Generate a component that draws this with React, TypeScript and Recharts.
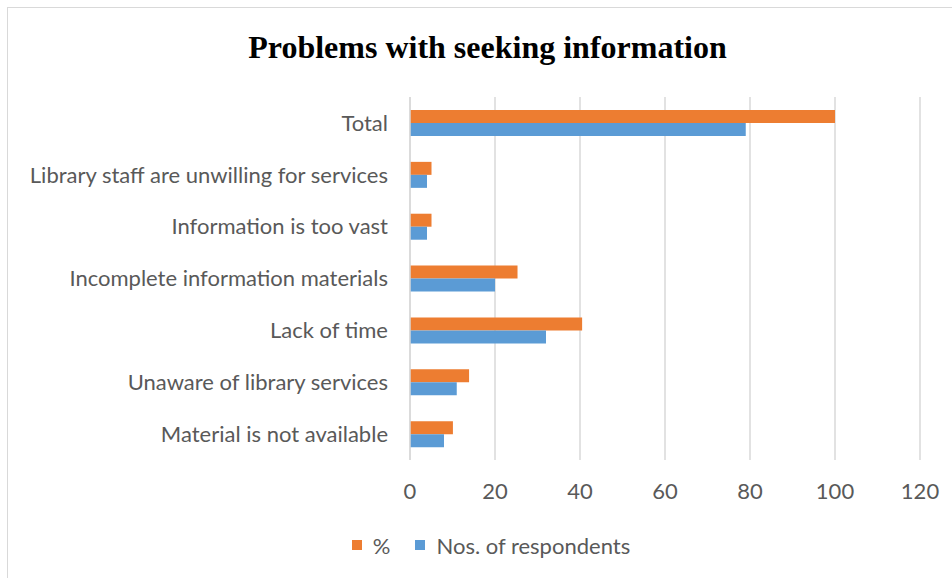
import React from "react";
import { BarChart, Bar, XAxis, YAxis, CartesianGrid, Legend } from "recharts";

const categories = [
  "Total",
  "Library staff are unwilling for services",
  "Information is too vast",
  "Incomplete information materials",
  "Lack of time",
  "Unaware of library services",
  "Material is not available",
];
const percentValues = [100, 5.06, 5.06, 25.3, 40.5, 13.9, 10.1];
const respondentValues = [79, 4, 4, 20, 32, 11, 8];
const xTicks = [0, 20, 40, 60, 80, 100, 120];

const data = categories.map((c, i) => ({
  name: c,
  pct: percentValues[i],
  nos: respondentValues[i],
}));

const FONT = "Lato, 'Noto Sans', sans-serif";
const GRAY = "#595959";

const renderLegend = (props: any) => {
  const { payload } = props;
  return (
    <div
      style={{
        display: "flex",
        justifyContent: "center",
        alignItems: "center",
        fontFamily: FONT,
        fontSize: 22,
        color: GRAY,
        height: 30,
      }}
    >
      {(payload || []).map((p: any, i: number) => (
        <div key={i} style={{ display: "flex", alignItems: "center", marginRight: i === 0 ? 25 : 0 }}>
          <div style={{ width: 10, height: 10, background: p.color, marginRight: 11 }} />
          <span>{p.value}</span>
        </div>
      ))}
    </div>
  );
};

export default function App() {
  return (
    <div style={{ position: "absolute", left: 0, top: 0, width: 952, height: 578, background: "#fff", overflow: "hidden" }}>
      <div
        style={{
          position: "absolute",
          left: 7,
          top: 7,
          width: 1000,
          height: 1000,
          borderLeft: "1px solid #D9D9D9",
          borderTop: "1px solid #D9D9D9",
        }}
      />
      <div
        style={{
          position: "absolute",
          left: 0,
          top: 26,
          width: 975,
          textAlign: "center",
          fontFamily: "'Liberation Serif', 'Times New Roman', serif",
          fontWeight: "bold",
          fontSize: 32,
          lineHeight: "42px",
          color: "#000",
        }}
      >
        Problems with seeking information
      </div>
      <div style={{ position: "absolute", left: 0, top: 0 }}>
        <BarChart
          width={952}
          height={578}
          data={data}
          layout="vertical"
          margin={{ top: 97, right: 32, bottom: 48, left: 0 }}
          barGap={0}
          barCategoryGap="24%"
        >
          <CartesianGrid horizontal={false} stroke="#D9D9D9" strokeWidth={1.5} />
          <XAxis
            type="number"
            domain={[0, 120]}
            ticks={xTicks}
            axisLine={false}
            tickLine={false}
            tickMargin={17}
            height={40}
            tick={{ fill: GRAY, fontSize: 22, fontFamily: FONT }}
          />
          <YAxis
            type="category"
            dataKey="name"
            width={410}
            axisLine={{ stroke: "#D9D9D9", strokeWidth: 1.5 }}
            tickLine={false}
            tickMargin={16}
            interval={0}
            tick={{ fill: GRAY, fontSize: 22, fontFamily: FONT }}
          />
          <Legend
            verticalAlign="bottom"
            align="center"
            content={renderLegend}
            wrapperStyle={{ top: 530, left: 15, width: 952 }}
          />
          <Bar dataKey="pct" name="%" fill="#ED7D31" barSize={13} isAnimationActive={false} />
          <Bar dataKey="nos" name="Nos. of respondents" fill="#5B9BD5" barSize={13} isAnimationActive={false} />
        </BarChart>
      </div>
    </div>
  );
}
